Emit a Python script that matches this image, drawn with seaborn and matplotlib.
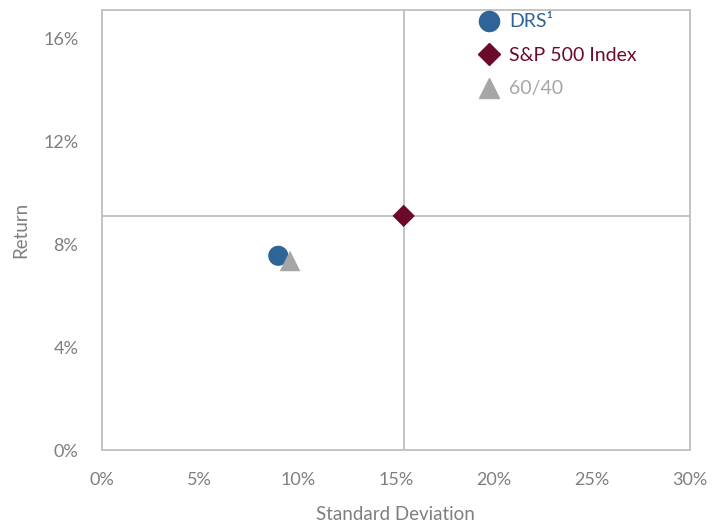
import numpy as np
import pandas as pd
import matplotlib
matplotlib.use("Agg")
import matplotlib.pyplot as plt
import seaborn as sns
from matplotlib.ticker import FuncFormatter

# values (percent)
names = ["DRS\u00b9", "S&P 500 Index", "60/40"]
std_dev = [9.0, 15.4, 9.6]
returns = [7.55, 9.1, 7.35]
x_ticks = [0, 5, 10, 15, 20, 25, 30]
y_ticks = [0, 4, 8, 12, 16]

colors = {"DRS\u00b9": "#2E6496", "S&P 500 Index": "#6B0A2A", "60/40": "#A6A6A6"}
markers = {"DRS\u00b9": "o", "S&P 500 Index": "D", "60/40": "^"}
sizes = {"DRS\u00b9": 210, "S&P 500 Index": 130, "60/40": 220}

sns.set_theme(style="white")
plt.rcParams['font.family'] = ['Lato', 'DejaVu Sans']

df = pd.DataFrame({"Fund": names, "Standard Deviation": std_dev, "Return": returns})

fig, ax = plt.subplots(figsize=(7.23, 5.24), dpi=100)
fig.subplots_adjust(left=0.141, right=0.954, top=0.981, bottom=0.141)

# crosshair through the S&P 500 point
sp = df[df.Fund == "S&P 500 Index"].iloc[0]
ax.axvline(sp["Standard Deviation"], color="#BFBFBF", lw=1.3, zorder=1)
ax.axhline(sp["Return"], color="#BFBFBF", lw=1.3, zorder=1)

sns.scatterplot(data=df, x="Standard Deviation", y="Return",
                hue="Fund", style="Fund", size="Fund",
                palette=colors, markers=markers, sizes=sizes,
                linewidth=0, ax=ax, zorder=3, legend=False)

ax.set_xlim(0, 30)
ax.set_ylim(0, 17.1)
ax.set_xticks(x_ticks)
ax.set_yticks(y_ticks)
ax.xaxis.set_major_formatter(FuncFormatter(lambda v, p: f"{v:.0f}%"))
ax.yaxis.set_major_formatter(FuncFormatter(lambda v, p: f"{v:.0f}%"))
ax.tick_params(axis="x", length=0, labelsize=13, labelcolor="#7F7F7F", pad=16)
ax.tick_params(axis="y", length=0, labelsize=13, labelcolor="#7F7F7F", pad=17)

ax.set_xlabel("Standard Deviation", fontsize=13.5, color="#7F7F7F", labelpad=13)
ax.set_ylabel("Return", fontsize=13.5, color="#7F7F7F", labelpad=10)

for s in ax.spines.values():
    s.set_color("#BFBFBF")
    s.set_linewidth(1.3)

handles = [plt.Line2D([], [], marker=markers[n], ls="", color=colors[n],
                      markersize=np.sqrt(sizes[n]) * 1.0) for n in names]
leg = ax.legend(handles, names, loc="upper left", bbox_to_anchor=(0.622, 1.01),
                frameon=False, fontsize=14, handletextpad=0.35,
                labelspacing=0.85, borderaxespad=0, handlelength=1.4)
for t, n in zip(leg.get_texts(), names):
    t.set_color(colors[n])

fig.savefig("out.png", dpi=100)
